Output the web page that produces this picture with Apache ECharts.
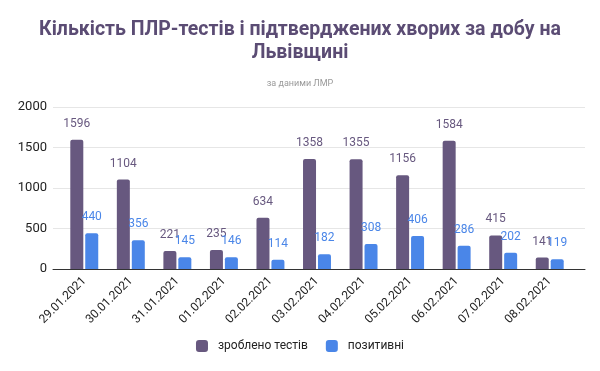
<!DOCTYPE html>
<html><head><meta charset="utf-8">
<script src="https://cdn.jsdelivr.net/npm/echarts@6/dist/echarts.min.js"></script>
<style>html,body{margin:0;padding:0;background:#fff}#c{width:600px;height:371px}</style>
</head><body><div id="c"></div>
<script>
const categories = ['29.01.2021','30.01.2021','31.01.2021','01.02.2021','02.02.2021','03.02.2021','04.02.2021','05.02.2021','06.02.2021','07.02.2021','08.02.2021'];
const tests = [1596,1104,221,235,634,1358,1355,1156,1584,415,141];
const positive = [440,356,145,146,114,182,308,406,286,202,119];
const seriesNames = ['зроблено тестів','позитивні'];
const yTicks = [0,500,1000,1500,2000];

const chart = echarts.init(document.getElementById('c'));
const font = 'Roboto, "Noto Sans", sans-serif';
const yMin = yTicks[0], yMax = yTicks[yTicks.length-1];
chart.setOption({
  animation:false,
  title:{
    text:'Кількість ПЛР-тестів і підтверджених хворих за добу на\nЛьвівщині',
    subtext:'за даними ЛМР',
    left:'center', top:14, itemGap:14,
    textStyle:{fontFamily:font,fontSize:19.5,fontWeight:'bold',color:'#5b4c74',lineHeight:23},
    subtextStyle:{fontFamily:font,fontSize:9,color:'#999999'}
  },
  legend:{
    bottom:14, left:'center', itemWidth:12, itemHeight:12, itemGap:18,
    icon:'roundRect',
    textStyle:{fontFamily:font,fontSize:12,color:'#222222',padding:[0,0,0,5]},
    data:seriesNames
  },
  grid:[
    {left:53,right:15,top:107,bottom:102},
    {left:61,right:27,top:107,bottom:102}
  ],
  xAxis:[
    {type:'value',gridIndex:0,min:0,max:1,
     axisLine:{show:true,onZero:false,lineStyle:{color:'#333333'}},
     axisTick:{show:false},axisLabel:{show:false},splitLine:{show:false}},
    {type:'category', gridIndex:1, data:categories,
     axisLine:{show:false},
     axisTick:{show:false},
     axisLabel:{rotate:45,fontFamily:font,fontSize:12,color:'#222222',margin:10,interval:0}}
  ],
  yAxis:[
    {type:'value', gridIndex:0, min:yMin, max:yMax, interval:500,
     axisLabel:{fontFamily:font,fontSize:13,color:'#222222',margin:6,formatter:v=>String(v)},
     splitLine:{lineStyle:{color:'#e6e6e6'}},
     axisLine:{show:false}, axisTick:{show:false}},
    {type:'value', gridIndex:1, min:yMin, max:yMax, interval:500, show:false}
  ],
  series:[
    {name:seriesNames[0],type:'bar',xAxisIndex:1,yAxisIndex:1,data:tests,barWidth:13,barGap:'15%',
     itemStyle:{color:'#67587f',borderRadius:[2,2,0,0]},
     label:{show:true,position:'top',distance:10,fontFamily:font,fontSize:12,color:'#67587f'}},
    {name:seriesNames[1],type:'bar',xAxisIndex:1,yAxisIndex:1,data:positive,barWidth:13,
     itemStyle:{color:'#4a86e8',borderRadius:[2,2,0,0]},
     label:{show:true,position:'top',distance:10,fontFamily:font,fontSize:12,color:'#4a86e8'}}
  ]
});
</script></body></html>
